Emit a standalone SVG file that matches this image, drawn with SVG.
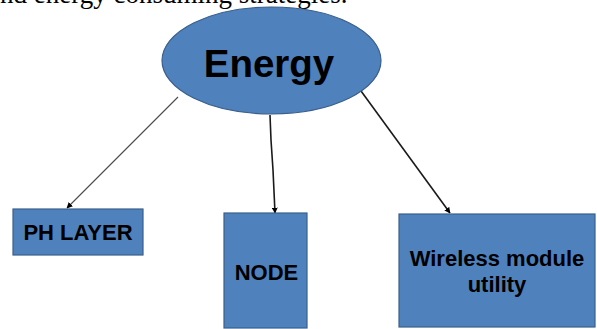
<svg xmlns="http://www.w3.org/2000/svg" width="597" height="329" viewBox="0 0 597 329">
<style>
.shape{fill:#4f81bd;stroke:#3a5f8b;stroke-width:1.2}
.lbl{font-family:"Liberation Sans",Arial,sans-serif;font-weight:bold;fill:#000;text-anchor:middle}
.conn{fill:none;stroke:#1a1a1a;stroke-width:1.6}
</style>
<defs>
<marker id="ah" viewBox="0 0 10 10" refX="9" refY="5" markerWidth="6" markerHeight="6" orient="auto" markerUnits="userSpaceOnUse">
<path d="M0,0 L10,5 L0,10 z" fill="#000"/>
</marker>
</defs>
<text x="0" y="3" font-family="'Liberation Serif','Times New Roman',serif" font-size="27" fill="#000">nd energy consuming strategies.</text>
<g id="connectors">
<line class="conn" x1="178" y1="97" x2="67" y2="208" style="stroke:#4a4a4a;stroke-width:1.1" marker-end="url(#ah)"/>
<polyline class="conn" points="270,115 271,140 273,170 275,213" marker-end="url(#ah)"/>
<line class="conn" x1="353" y1="80" x2="450" y2="213" marker-end="url(#ah)"/>
</g>
<g id="energy">
<ellipse class="shape" cx="271.5" cy="60.5" rx="109.5" ry="53.5"/>
<text class="lbl" x="269" y="77" font-size="38.5">Energy</text>
</g>
<g id="ph-layer">
<rect class="shape" x="13" y="209" width="130" height="46"/>
<text class="lbl" x="78" y="240" font-size="22">PH LAYER</text>
</g>
<g id="node">
<rect class="shape" x="224" y="213" width="83" height="115"/>
<text class="lbl" x="266.5" y="280" font-size="22">NODE</text>
</g>
<g id="wireless">
<rect class="shape" x="399" y="214" width="196" height="113"/>
<text class="lbl" x="497" y="266" font-size="22">Wireless module</text>
<text class="lbl" x="497" y="292" font-size="22">utility</text>
</g>
</svg>
